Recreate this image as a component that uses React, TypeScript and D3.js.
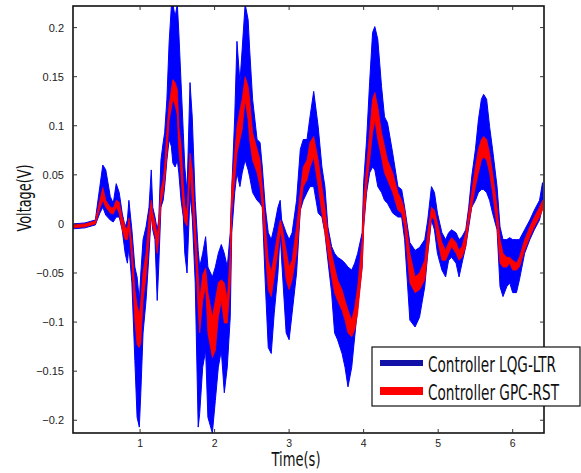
import React from "react";
import * as d3 from "d3";

// time samples (s) and envelope values (V), 10 per row
const time = [
  0.10, 0.26, 0.40, 0.46, 0.50, 0.54, 0.60, 0.64, 0.68, 0.72,
  0.76, 0.80, 0.83, 0.85, 0.89, 0.93, 0.96, 0.99, 1.01, 1.04,
  1.08, 1.12, 1.15, 1.17, 1.20, 1.23, 1.25, 1.28, 1.31, 1.33,
  1.36, 1.39, 1.42, 1.44, 1.47, 1.50, 1.52, 1.55, 1.58, 1.60,
  1.63, 1.67, 1.70, 1.74, 1.78, 1.80, 1.84, 1.88, 1.91, 1.97,
  2.01, 2.05, 2.09, 2.13, 2.17, 2.21, 2.23, 2.27, 2.30, 2.34,
  2.37, 2.41, 2.45, 2.47, 2.51, 2.57, 2.61, 2.64, 2.68, 2.72,
  2.76, 2.80, 2.85, 2.88, 2.90, 2.96, 3.00, 3.04, 3.10, 3.15,
  3.19, 3.24, 3.28, 3.33, 3.39, 3.44, 3.48, 3.52, 3.57, 3.61,
  3.65, 3.71, 3.75, 3.79, 3.84, 3.88, 3.92, 3.98, 4.00, 4.04,
  4.08, 4.12, 4.15, 4.19, 4.24, 4.28, 4.32, 4.39, 4.46, 4.51,
  4.55, 4.62, 4.69, 4.75, 4.82, 4.86, 4.91, 4.95, 4.99, 5.05,
  5.10, 5.14, 5.18, 5.24, 5.28, 5.32, 5.37, 5.41, 5.45, 5.50,
  5.54, 5.58, 5.61, 5.65, 5.69, 5.73, 5.79, 5.83, 5.87, 5.92,
  5.96, 6.00, 6.05, 6.09, 6.16, 6.23, 6.29, 6.36, 6.40,
];

const lqgHigh = [
  0.000, 0.001, 0.004, 0.038, 0.060, 0.055, 0.028, 0.021, 0.041, 0.032,
  0.011, -0.003, 0.004, 0.024, -0.006, -0.044, -0.054, -0.078, -0.050, -0.016,
  -0.003, 0.017, 0.055, 0.017, 0.007, -0.006, 0.004, 0.065, 0.083, 0.093,
  0.127, 0.185, 0.222, 0.224, 0.211, 0.224, 0.195, 0.144, 0.093, 0.058,
  0.032, 0.144, 0.109, 0.024, -0.027, -0.044, -0.030, -0.013, -0.044, -0.054,
  -0.044, -0.030, -0.021, -0.030, -0.044, -0.009, 0.035, 0.109, 0.186, 0.144,
  0.178, 0.224, 0.208, 0.178, 0.127, 0.086, 0.083, 0.058, 0.017, -0.009,
  -0.016, -0.003, 0.017, 0.024, 0.004, -0.009, -0.016, -0.009, 0.024, 0.076,
  0.086, 0.086, 0.109, 0.135, 0.099, 0.058, 0.038, -0.003, -0.023, -0.030,
  -0.034, -0.037, -0.040, -0.044, -0.047, -0.040, -0.030, -0.009, 0.042, 0.086,
  0.144, 0.195, 0.201, 0.188, 0.140, 0.109, 0.103, 0.072, 0.038, 0.035,
  0.017, -0.019, -0.027, -0.024, -0.016, 0.004, 0.038, 0.032, 0.011, -0.009,
  -0.016, -0.009, -0.006, -0.009, -0.016, -0.013, -0.006, 0.017, 0.048, 0.076,
  0.106, 0.127, 0.132, 0.127, 0.099, 0.076, 0.038, -0.003, -0.016, -0.016,
  -0.014, -0.016, -0.016, -0.016, -0.006, 0.004, 0.014, 0.024, 0.042,
];

const lqgLow = [
  -0.005, -0.004, -0.001, 0.011, 0.017, 0.009, 0.004, 0.002, 0.007, 0.007,
  -0.006, -0.030, -0.040, -0.023, -0.060, -0.139, -0.197, -0.207, -0.172, -0.111,
  -0.078, -0.030, 0.011, -0.006, -0.016, -0.078, -0.044, 0.017, 0.024, 0.038,
  0.065, 0.086, 0.079, 0.062, 0.058, 0.065, 0.052, 0.024, 0.007, -0.030,
  -0.050, 0.030, 0.007, -0.060, -0.207, -0.193, -0.146, -0.129, -0.197, -0.213,
  -0.180, -0.146, -0.129, -0.172, -0.146, -0.095, -0.009, 0.032, 0.052, 0.038,
  0.052, 0.065, 0.055, 0.048, 0.032, 0.024, 0.021, 0.017, -0.060, -0.126,
  -0.132, -0.091, -0.050, -0.009, -0.037, -0.111, -0.118, -0.091, -0.050, 0.014,
  0.024, 0.032, 0.038, 0.038, 0.011, 0.007, -0.009, -0.037, -0.070, -0.111,
  -0.118, -0.132, -0.146, -0.166, -0.146, -0.115, -0.085, -0.044, -0.003, 0.032,
  0.052, 0.058, 0.055, 0.038, 0.032, 0.024, 0.021, 0.011, 0.007, 0.007,
  -0.016, -0.098, -0.105, -0.095, -0.064, -0.030, 0.004, -0.006, -0.030, -0.047,
  -0.054, -0.037, -0.034, -0.040, -0.054, -0.040, -0.023, -0.003, 0.017, 0.024,
  0.032, 0.035, 0.035, 0.032, 0.024, 0.011, -0.006, -0.064, -0.074, -0.064,
  -0.060, -0.070, -0.070, -0.057, -0.030, -0.016, -0.006, 0.004, 0.017,
];

const gpcHigh = [
  -0.001, 0.000, 0.003, 0.024, 0.037, 0.024, 0.017, 0.016, 0.024, 0.022,
  0.007, -0.003, -0.006, 0.006, -0.021, -0.067, -0.083, -0.093, -0.078, -0.050,
  -0.030, 0.007, 0.024, 0.011, 0.002, -0.012, -0.001, 0.035, 0.045, 0.058,
  0.096, 0.121, 0.137, 0.147, 0.144, 0.137, 0.099, 0.081, 0.040, 0.019,
  0.011, 0.072, 0.055, -0.001, -0.052, -0.078, -0.052, -0.045, -0.070, -0.095,
  -0.078, -0.060, -0.057, -0.060, -0.078, -0.030, 0.038, 0.072, 0.099, 0.116,
  0.127, 0.150, 0.140, 0.127, 0.093, 0.076, 0.065, 0.038, -0.001, -0.037,
  -0.049, -0.032, -0.008, 0.004, 0.000, -0.027, -0.044, -0.037, -0.003, 0.033,
  0.058, 0.065, 0.083, 0.089, 0.065, 0.038, 0.017, -0.009, -0.030, -0.044,
  -0.057, -0.067, -0.078, -0.088, -0.098, -0.085, -0.064, -0.016, 0.024, 0.058,
  0.093, 0.127, 0.134, 0.119, 0.093, 0.079, 0.065, 0.052, 0.032, 0.024,
  0.014, -0.030, -0.054, -0.050, -0.037, -0.009, 0.017, 0.014, 0.001, -0.019,
  -0.027, -0.019, -0.014, -0.019, -0.027, -0.023, -0.009, 0.011, 0.032, 0.058,
  0.076, 0.086, 0.089, 0.086, 0.072, 0.052, 0.017, -0.016, -0.030, -0.034,
  -0.034, -0.037, -0.040, -0.034, -0.016, -0.003, 0.007, 0.017, 0.024,
];

const gpcLow = [
  -0.004, -0.003, 0.000, 0.016, 0.024, 0.017, 0.011, 0.010, 0.017, 0.011,
  -0.006, -0.016, -0.016, -0.001, -0.039, -0.098, -0.123, -0.126, -0.121, -0.078,
  -0.054, -0.016, 0.011, -0.003, -0.011, -0.030, -0.016, 0.021, 0.032, 0.045,
  0.070, 0.106, 0.118, 0.127, 0.121, 0.111, 0.076, 0.050, 0.014, 0.002,
  -0.002, 0.055, 0.024, -0.027, -0.088, -0.111, -0.078, -0.064, -0.111, -0.136,
  -0.129, -0.095, -0.078, -0.101, -0.101, -0.060, 0.011, 0.045, 0.072, 0.086,
  0.096, 0.127, 0.106, 0.086, 0.065, 0.052, 0.038, 0.017, -0.027, -0.067,
  -0.074, -0.054, -0.027, -0.006, -0.014, -0.057, -0.067, -0.057, -0.030, 0.014,
  0.038, 0.045, 0.058, 0.068, 0.038, 0.011, -0.009, -0.030, -0.054, -0.070,
  -0.078, -0.088, -0.098, -0.111, -0.115, -0.108, -0.091, -0.044, -0.003, 0.038,
  0.065, 0.093, 0.106, 0.086, 0.068, 0.052, 0.045, 0.032, 0.014, 0.011,
  -0.003, -0.060, -0.070, -0.067, -0.057, -0.030, 0.007, 0.004, -0.016, -0.037,
  -0.037, -0.030, -0.023, -0.030, -0.037, -0.034, -0.023, 0.001, 0.017, 0.038,
  0.052, 0.065, 0.068, 0.065, 0.052, 0.032, -0.003, -0.040, -0.044, -0.044,
  -0.040, -0.047, -0.047, -0.044, -0.027, -0.013, -0.003, 0.007, 0.014,
];

const xTicks = [1, 2, 3, 4, 5, 6];
const yTicks = [-0.2, -0.15, -0.1, -0.05, 0, 0.05, 0.1, 0.15, 0.2];
const seriesNames = ["Controller LQG-LTR", "Controller GPC-RST"];

const W = 581, H = 473;
const left = 73, right = 544, top = 6, bottom = 433;
const narrow = "'Liberation Sans Narrow', 'DejaVu Sans Condensed', sans-serif";

export default function App() {
  const x = d3.scaleLinear().domain([0.1, 6.42]).range([left, right]);
  const y = d3.scaleLinear().domain([-0.213, 0.222]).range([bottom, top]);

  const n = Math.min(time.length, lqgHigh.length, lqgLow.length, gpcHigh.length, gpcLow.length);
  const idx = d3.range(n);

  const band = (hi: number[], lo: number[]) =>
    d3.area<number>()
      .x(i => x(time[i]))
      .y0(i => y(lo[i]))
      .y1(i => y(hi[i]))(idx) || "";

  const mid = (hi: number[], lo: number[]) =>
    d3.line<number>()
      .x(i => x(time[i]))
      .y(i => y((hi[i] + lo[i]) / 2))(idx) || "";

  const tick = 4;
  const squeeze = 0.8; // legend text is a tall condensed face

  return (
    <svg width={W} height={H} style={{ position: "absolute", left: 0, top: 0, background: "#fff" }}>
      <defs>
        <clipPath id="plot">
          <rect x={left} y={top} width={right - left} height={bottom - top} />
        </clipPath>
      </defs>

      <g clipPath="url(#plot)">
        <path d={band(lqgHigh, lqgLow)} fill="#0000ff" stroke="#0000ff" strokeWidth={1} />
        <path d={band(gpcHigh, gpcLow)} fill="#ff0000" stroke="#ff0000" strokeWidth={0.8} />
        <path d={mid(gpcHigh, gpcLow)} fill="none" stroke="#ff0000" strokeWidth={1.2} />
      </g>

      {/* frame */}
      <rect x={left} y={top} width={right - left} height={bottom - top} fill="none" stroke="#111" strokeWidth={1.6} />

      {/* ticks */}
      {xTicks.map(t => (
        <g key={"x" + t}>
          <line x1={x(t)} x2={x(t)} y1={bottom} y2={bottom - tick} stroke="#333" />
          <line x1={x(t)} x2={x(t)} y1={top} y2={top + tick} stroke="#333" />
          <text x={x(t)} y={447} textAnchor="middle" fontFamily="'Liberation Sans', Arial, sans-serif" fontSize={10.5} fill="#222">{t}</text>
        </g>
      ))}
      {yTicks.map(t => (
        <g key={"y" + t}>
          <line x1={left} x2={left + tick} y1={y(t)} y2={y(t)} stroke="#333" />
          <line x1={right} x2={right - tick} y1={y(t)} y2={y(t)} stroke="#333" />
          <text x={64} y={y(t) + 4} textAnchor="end" fontFamily="'Liberation Sans', Arial, sans-serif" fontSize={11} fill="#222">{d3.format("~g")(t)}</text>
        </g>
      ))}

      {/* axis titles */}
      <text x={296} y={466} textAnchor="middle" fontFamily={narrow} fontSize={19} textLength={49} lengthAdjust="spacingAndGlyphs" fill="#111">Time(s)</text>
      <text transform="translate(31,198) rotate(-90)" textAnchor="middle" fontFamily={narrow} fontSize={19} textLength={67} lengthAdjust="spacingAndGlyphs" fill="#111">Voltage(V)</text>

      {/* legend */}
      <rect x={372} y={347} width={208} height={59} fill="#fff" stroke="#111" strokeWidth={1.2} />
      <line x1={380} x2={423} y1={363} y2={363} stroke="#1111a8" strokeWidth={6} />
      <line x1={380} x2={423} y1={391} y2={391} stroke="#ff0000" strokeWidth={8} />
      <text transform={`translate(428,372) scale(${squeeze},1)`} fontFamily={narrow} fontSize={22} textLength={128 / squeeze} lengthAdjust="spacingAndGlyphs" fill="#111">{seriesNames[0]}</text>
      <text transform={`translate(428,400) scale(${squeeze},1)`} fontFamily={narrow} fontSize={22} textLength={131 / squeeze} lengthAdjust="spacingAndGlyphs" fill="#111">{seriesNames[1]}</text>
    </svg>
  );
}
